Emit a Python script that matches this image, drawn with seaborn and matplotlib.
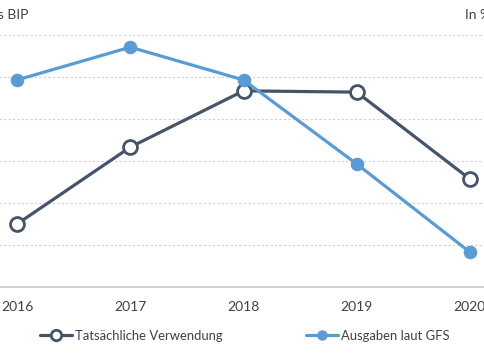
import matplotlib
matplotlib.use("Agg")
import matplotlib.pyplot as plt
import numpy as np
import pandas as pd
import seaborn as sns

years = ["2016", "2017", "2018", "2019", "2020"]
verwendung = [1.5, 3.33, 4.67, 4.64, 2.57]
gfs = [4.93, 5.71, 4.93, 2.93, 0.83]

df = pd.DataFrame({"Jahr": years, "Tatsächliche Verwendung": verwendung,
                   "Ausgaben laut GFS": gfs})

sns.set_style("white")
plt.rcParams["font.family"] = ["Lato", "DejaVu Sans"]

dark = "#44546A"
blue = "#5B9BD5"

fig = plt.figure(figsize=(4.85, 3.6), dpi=100)
# plot area is wider than the figure: the reference is a crop
ax = fig.add_axes([-39.5 / 485, 73 / 360, 566 / 485, 252 / 360])

sns.lineplot(data=df, x="Jahr", y="Tatsächliche Verwendung", ax=ax, color=dark,
             linewidth=2.3, marker="o", markersize=10, markerfacecolor="white",
             markeredgecolor=dark, markeredgewidth=2, label="Tatsächliche Verwendung")
sns.lineplot(data=df, x="Jahr", y="Ausgaben laut GFS", ax=ax, color=blue,
             linewidth=2.3, marker="o", markersize=9, markerfacecolor=blue,
             markeredgecolor=blue, label="Ausgaben laut GFS")

ax.set_xlim(-0.5, 4.5)
ax.set_ylim(0, 6)
ax.set_yticks(np.arange(0, 7, 1))
ax.yaxis.grid(True, color="#d0d0d0", linestyle=(0, (2, 2)), linewidth=0.8)
ax.set_axisbelow(True)
ax.set_yticklabels([])
ax.tick_params(axis="y", length=0)
ax.set_xlabel("")
ax.set_ylabel("")
ax.set_xticks(range(len(years)))
ax.set_xticklabels(years)
ax.tick_params(axis="x", which="major", length=0, labelsize=10, pad=10, colors="#404040")
ax.set_xticks(np.arange(0.5, 4, 1), minor=True)
ax.tick_params(axis="x", which="minor", length=4, direction="out", color="#bfbfbf")
for s in ["top", "left", "right"]:
    ax.spines[s].set_visible(False)
ax.spines["bottom"].set_color("#c8c8c8")
ax.spines["bottom"].set_linewidth(1.2)

ax.get_legend().remove()
h, l = ax.get_legend_handles_labels()
fig.legend(h, l, loc="center", bbox_to_anchor=(245 / 485, 1 - 336 / 360), ncol=2,
           frameon=False, fontsize=9.4, handlelength=2.45, columnspacing=6.4,
           handletextpad=0.2, labelcolor="#404040", markerscale=0.75)

fig.text(28 / 485, 1 - 15 / 360, "In % des BIP", ha="right", va="center",
         fontsize=10, color="#404040")
fig.text(465 / 485, 1 - 15 / 360, "In %", ha="left", va="center",
         fontsize=10, color="#404040")

fig.savefig("out.png", dpi=100)
